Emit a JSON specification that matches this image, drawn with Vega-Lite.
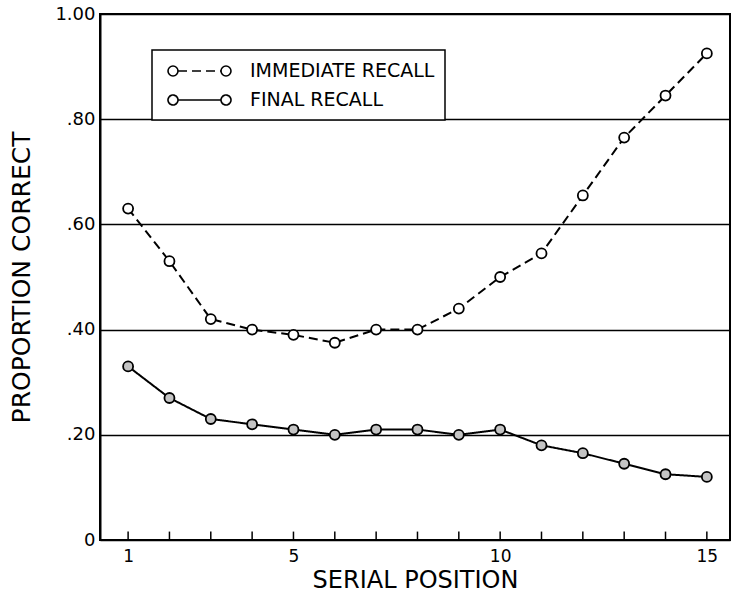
{
  "$schema": "https://vega.github.io/schema/vega-lite/v6.json",
  "width": 630,
  "height": 526,
  "autosize": {"type": "none"},
  "padding": {"left": 100, "top": 14, "right": 1, "bottom": 66},
  "background": "white",
  "config": {
    "view": {"stroke": "black", "strokeWidth": 2},
    "font": "DejaVu Sans",
    "axis": {"domainColor": "black", "domainWidth": 2, "gridColor": "black", "gridWidth": 1.5, "gridOpacity": 1, "labelColor": "black", "titleColor": "black", "labelFont": "DejaVu Sans", "titleFont": "DejaVu Sans", "titleFontWeight": "normal"},
    "legend": {
      "orient": "none",
      "legendX": 52,
      "legendY": 36,
      "fillColor": "white",
      "strokeColor": "black",
      "strokeWidth": 1.5,
      "padding": 10,
      "symbolType": "M0.5,0A0.5,0.5 0 0,1 0,0.5 M0,0.5A0.5,0.5 0 0,1 -0.5,0 M-0.5,0A0.5,0.5 0 0,1 0,-0.5 M0,-0.5A0.5,0.5 0 0,1 0.5,0 M0.5,0L4.8,0 M5.8,0A0.5,0.5 0 0,1 5.3,0.5 M5.3,0.5A0.5,0.5 0 0,1 4.8,0 M4.8,0A0.5,0.5 0 0,1 5.3,-0.5 M5.3,-0.5A0.5,0.5 0 0,1 5.8,0",
      "symbolSize": 400,
      "symbolStrokeColor": "black",
      "symbolStrokeWidth": 1.6,
      "symbolOpacity": 1,
      "labelOffset": 66,
      "labelFontSize": 19,
      "labelLimit": 400,
      "labelFont": "DejaVu Sans",
      "labelColor": "black",
      "rowPadding": 8
    }
  },
  "data": {
    "values": [
      {"pos": 1, "p": 0.63, "series": "IMMEDIATE RECALL"},
      {"pos": 2, "p": 0.53, "series": "IMMEDIATE RECALL"},
      {"pos": 3, "p": 0.42, "series": "IMMEDIATE RECALL"},
      {"pos": 4, "p": 0.40, "series": "IMMEDIATE RECALL"},
      {"pos": 5, "p": 0.39, "series": "IMMEDIATE RECALL"},
      {"pos": 6, "p": 0.375, "series": "IMMEDIATE RECALL"},
      {"pos": 7, "p": 0.40, "series": "IMMEDIATE RECALL"},
      {"pos": 8, "p": 0.40, "series": "IMMEDIATE RECALL"},
      {"pos": 9, "p": 0.44, "series": "IMMEDIATE RECALL"},
      {"pos": 10, "p": 0.50, "series": "IMMEDIATE RECALL"},
      {"pos": 11, "p": 0.545, "series": "IMMEDIATE RECALL"},
      {"pos": 12, "p": 0.655, "series": "IMMEDIATE RECALL"},
      {"pos": 13, "p": 0.765, "series": "IMMEDIATE RECALL"},
      {"pos": 14, "p": 0.845, "series": "IMMEDIATE RECALL"},
      {"pos": 15, "p": 0.925, "series": "IMMEDIATE RECALL"},
      {"pos": 1, "p": 0.33, "series": "FINAL RECALL"},
      {"pos": 2, "p": 0.27, "series": "FINAL RECALL"},
      {"pos": 3, "p": 0.23, "series": "FINAL RECALL"},
      {"pos": 4, "p": 0.22, "series": "FINAL RECALL"},
      {"pos": 5, "p": 0.21, "series": "FINAL RECALL"},
      {"pos": 6, "p": 0.20, "series": "FINAL RECALL"},
      {"pos": 7, "p": 0.21, "series": "FINAL RECALL"},
      {"pos": 8, "p": 0.21, "series": "FINAL RECALL"},
      {"pos": 9, "p": 0.20, "series": "FINAL RECALL"},
      {"pos": 10, "p": 0.21, "series": "FINAL RECALL"},
      {"pos": 11, "p": 0.18, "series": "FINAL RECALL"},
      {"pos": 12, "p": 0.165, "series": "FINAL RECALL"},
      {"pos": 13, "p": 0.145, "series": "FINAL RECALL"},
      {"pos": 14, "p": 0.125, "series": "FINAL RECALL"},
      {"pos": 15, "p": 0.12, "series": "FINAL RECALL"}
    ]
  },
  "encoding": {
    "x": {
      "field": "pos", "type": "quantitative",
      "scale": {"domain": [0.32, 15.56], "nice": false, "zero": false},
      "axis": {
        "title": "SERIAL POSITION", "titleFontSize": 24, "titlePadding": 4,
        "values": [1,2,3,4,5,6,7,8,9,10,11,12,13,14,15],
        "labelExpr": "indexof([1,5,10,15], datum.value) >= 0 ? datum.label : ''",
        "labelFontSize": 17, "labelPadding": 8,
        "grid": false, "domain": false, "ticks": false
      }
    },
    "y": {
      "field": "p", "type": "quantitative",
      "scale": {"domain": [0, 1], "nice": false},
      "axis": {
        "title": "PROPORTION CORRECT", "titleFontSize": 25, "titlePadding": 20,
        "values": [0, 0.2, 0.4, 0.6, 0.8, 1],
        "labelExpr": "datum.value == 0 ? '0' : (datum.value == 1 ? '1.00' : substring(format(datum.value, '.2f'), 1))",
        "labelFontSize": 18, "labelPadding": 5, "ticks": false, "grid": true
      }
    }
  },
  "layer": [
    {
      "transform": [{"filter": "datum.series == 'IMMEDIATE RECALL'"}],
      "mark": {"type": "rule", "color": "black", "strokeWidth": 1.5, "opacity": 1},
      "encoding": {
        "y": {"datum": 0},
        "y2": {"datum": 0.016}
      }
    },
    {
      "mark": {"type": "line", "color": "black", "strokeWidth": 2},
      "encoding": {
        "strokeDash": {
          "field": "series", "type": "nominal",
          "scale": {"domain": ["IMMEDIATE RECALL", "FINAL RECALL"], "range": [[9, 5], [1, 0]]},
          "legend": {"title": null}
        }
      }
    },
    {
      "mark": {"type": "point", "shape": "circle", "filled": false, "stroke": "black", "strokeWidth": 1.8, "size": 100, "opacity": 1},
      "encoding": {
        "fill": {
          "field": "series", "type": "nominal",
          "scale": {"domain": ["IMMEDIATE RECALL", "FINAL RECALL"], "range": ["white", "#c4c4c4"]},
          "legend": {"title": null}
        }
      }
    }
  ]
}
